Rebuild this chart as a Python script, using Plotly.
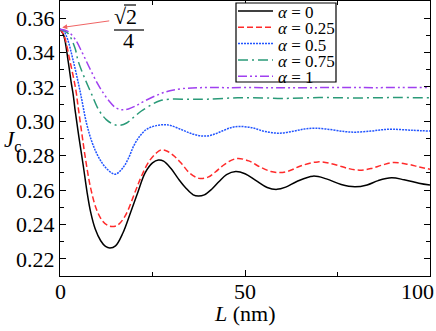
import plotly.graph_objects as go

W, H = 436, 331
SERIF = "Liberation Serif, serif"

# alpha = 0 (black, solid)
L0 = [0, 1, 2.2, 3, 3.6, 4.05, 5.1, 6.3, 7.3, 8.3, 9.5, 11, 12.3, 13.5, 15, 17, 19, 21, 23, 25, 26.6, 28, 30, 32,
      34, 36, 37.4, 39, 41, 43, 45, 47.5, 50, 53, 56, 58.6, 61, 64, 68.4, 72, 76, 79.7, 83, 86, 89.6, 93, 97, 100]
J0 = [0.3536, 0.350, 0.335, 0.323, 0.315, 0.307, 0.291, 0.274, 0.259, 0.247, 0.2375, 0.2305, 0.2272, 0.2263,
      0.2275, 0.2350, 0.2465, 0.2585, 0.2700, 0.2758, 0.2775, 0.2768, 0.2725, 0.2665, 0.2612, 0.2572, 0.2565,
      0.2572, 0.2605, 0.2650, 0.2690, 0.2708, 0.2695, 0.2655, 0.2615, 0.2604, 0.2617, 0.2650, 0.2681, 0.2665,
      0.2632, 0.2619, 0.2630, 0.2655, 0.2671, 0.2660, 0.2640, 0.2629]
# alpha = 0.25 (red, dashed)
L1 = [0, 1, 2.7, 4.3, 4.8, 5.9, 6.9, 8.3, 9.9, 11.5, 13, 14, 15.5, 17.5, 20.5, 22, 24, 26, 27.3, 29, 31, 33, 35,
      37.6, 40, 42, 44.5, 47.7, 51, 54, 57, 59.5, 62, 65, 69.7, 74, 78, 81, 84, 87, 90, 94, 97, 100]
J1 = [0.3536, 0.3505, 0.335, 0.318, 0.310, 0.293, 0.278, 0.261, 0.2485, 0.2420, 0.2393, 0.2388, 0.2395, 0.2445,
      0.2600, 0.2680, 0.2765, 0.2815, 0.2833, 0.2826, 0.2795, 0.2750, 0.2700, 0.2668, 0.2675, 0.2705, 0.2750,
      0.2783, 0.2770, 0.2735, 0.2708, 0.2702, 0.2712, 0.2740, 0.2764, 0.2750, 0.2725, 0.2716, 0.2725, 0.2745,
      0.2760, 0.2750, 0.2735, 0.2721]
# alpha = 0.5 (blue, dotted)
L2 = [0, 1, 2, 3.6, 5.4, 7.2, 8.8, 10.6, 12.5, 14.9, 17, 18.5, 20, 21.6, 23.5, 26, 28.4, 30, 33, 36, 38.7, 41,
      44, 46.5, 48.6, 52, 55, 59, 63, 66, 69, 73, 77, 80, 84, 87, 90, 95, 100]
J2 = [0.3536, 0.3525, 0.348, 0.335, 0.3178, 0.2986, 0.2870, 0.2785, 0.2727, 0.2692, 0.2730, 0.2785, 0.2860,
      0.2915, 0.2955, 0.2975, 0.2980, 0.2975, 0.2950, 0.2925, 0.2914, 0.2920, 0.2945, 0.2965, 0.2970, 0.2962,
      0.2943, 0.2931, 0.2942, 0.2955, 0.2960, 0.2952, 0.2940, 0.2937, 0.2943, 0.2951, 0.2954, 0.2948, 0.2943]
# alpha = 0.75 (green, dash-dot)
L3 = [0, 2, 4, 4.9, 6.5, 8.6, 10.5, 12.5, 14.5, 16, 18, 20, 22, 25, 27, 30, 35, 40, 48, 55, 60, 70, 80, 90, 100]
J3 = [0.3536, 0.3515, 0.343, 0.3351, 0.326, 0.3155, 0.3065, 0.3010, 0.2982, 0.2976, 0.2990, 0.3025, 0.3060,
      0.3100, 0.3120, 0.3129, 0.3128, 0.3129, 0.3137, 0.3136, 0.3133, 0.3138, 0.3136, 0.3138, 0.3137]
# alpha = 1 (purple, dash-dot-dot)
L4 = [0, 2, 4, 6, 8, 10, 11.3, 13, 15, 16.7, 18.5, 20.5, 23, 27, 29.7, 33, 38, 45, 55, 65, 75, 85, 100]
J4 = [0.3536, 0.3525, 0.348, 0.340, 0.331, 0.3225, 0.3178, 0.3125, 0.3080, 0.3067, 0.3072, 0.3090, 0.3120,
      0.3159, 0.3178, 0.3190, 0.3196, 0.3196, 0.3196, 0.3195, 0.3197, 0.3196, 0.3197]

names = ["0", "0.25", "0.5", "0.75", "1"]
colors = ["#000000", "#FF2A2A", "#2255FF", "#2A9A78", "#A040F0"]
dashes = ["solid", "6px,3px", "2px,1px", "10px,4px,2px,4px", "9px,3px,2px,3px,2px,3px"]
xticks = [0, 50, 100]

# plot frame in pixels
PX0, PX1, PY0, PY1 = 60, 430, 1, 276
def px(x): return (x - PX0) / (PX1 - PX0)
def py(y): return (PY1 - y) / (PY1 - PY0)

fig = go.Figure()
for Ls, Js, c, d in zip([L0, L1, L2, L3, L4], [J0, J1, J2, J3, J4], colors, dashes):
    fig.add_trace(go.Scatter(x=Ls, y=Js, mode="lines", line=dict(color=c, width=1.5, dash=d, shape="spline"),
                             showlegend=False, hoverinfo="skip"))

ax_common = dict(showline=True, linecolor="black", linewidth=1.2, mirror="ticks", ticks="inside",
                 ticklen=6, tickcolor="black", showgrid=False, zeroline=False, automargin=False,
                 tickfont=dict(family=SERIF, size=22, color="black"))
fig.update_layout(
    width=W, height=H, plot_bgcolor="white", paper_bgcolor="white",
    margin=dict(l=PX0, r=W - PX1, t=PY0, b=H - PY1),
    xaxis=dict(range=[0, 100], tickvals=xticks, showticklabels=False,
               minor=dict(dtick=25, ticks="inside", ticklen=4, tickcolor="black"), **ax_common),
    yaxis=dict(range=[0.21, 0.37], tick0=0.22, dtick=0.02, tickformat=".2f",
               minor=dict(dtick=0.01, ticks="inside", ticklen=4, tickcolor="black"), **ax_common),
)

def label(x, y, text, size, xanchor="center"):
    fig.add_annotation(xref="paper", yref="paper", x=px(x), y=py(y), xanchor=xanchor, yanchor="middle",
                       showarrow=False, text=text, font=dict(family=SERIF, size=size, color="black"))

# x tick labels (last one pulled in so it stays inside the frame, as in the original)
for v in xticks:
    fig.add_annotation(xref="x", yref="paper", x=v, y=py(291), yanchor="middle",
                       xanchor="right" if v == xticks[-1] else "center", xshift=6 if v == xticks[-1] else 0,
                       showarrow=False, text=str(v), font=dict(family=SERIF, size=22, color="black"))

# axis titles
label(245, 313, "<i>L</i> (nm)", 22)
label(12, 141, "<i>J</i><sub>c</sub>", 23)

# legend box drawn by hand
fig.add_shape(type="rect", xref="paper", yref="paper", x0=px(236), x1=px(336), y0=py(82), y1=py(3),
              fillcolor="white", line=dict(color="black", width=1.2))
for i, (n, c, d) in enumerate(zip(names, colors, dashes)):
    yy = 11 + 16.3 * i
    fig.add_shape(type="line", xref="paper", yref="paper", x0=px(238), x1=px(273), y0=py(yy), y1=py(yy),
                  line=dict(color=c, width=1.5, dash=d))
    label(276, yy + 1.5, f"<i>α</i> = {n}", 17, xanchor="left")

# sqrt(2)/4 marker
fig.add_annotation(x=L0[0] + 0.6, y=J0[0] + 0.001, ax=50, ay=-7, showarrow=True, arrowhead=2, arrowsize=1,
                   arrowwidth=1, arrowcolor="#F06464", text=" ")
label(125, 16, "√2", 22)
fig.add_shape(type="line", xref="paper", yref="paper", x0=px(124), x1=px(136), y0=py(5), y1=py(5),
              line=dict(color="black", width=1.2))
fig.add_shape(type="line", xref="paper", yref="paper", x0=px(114), x1=px(144), y0=py(30), y1=py(30),
              line=dict(color="black", width=1.2))
label(128, 40, "4", 22)

fig.write_html("out.html", config={"displayModeBar": False},
               post_script="document.body.style.margin='0px';")
